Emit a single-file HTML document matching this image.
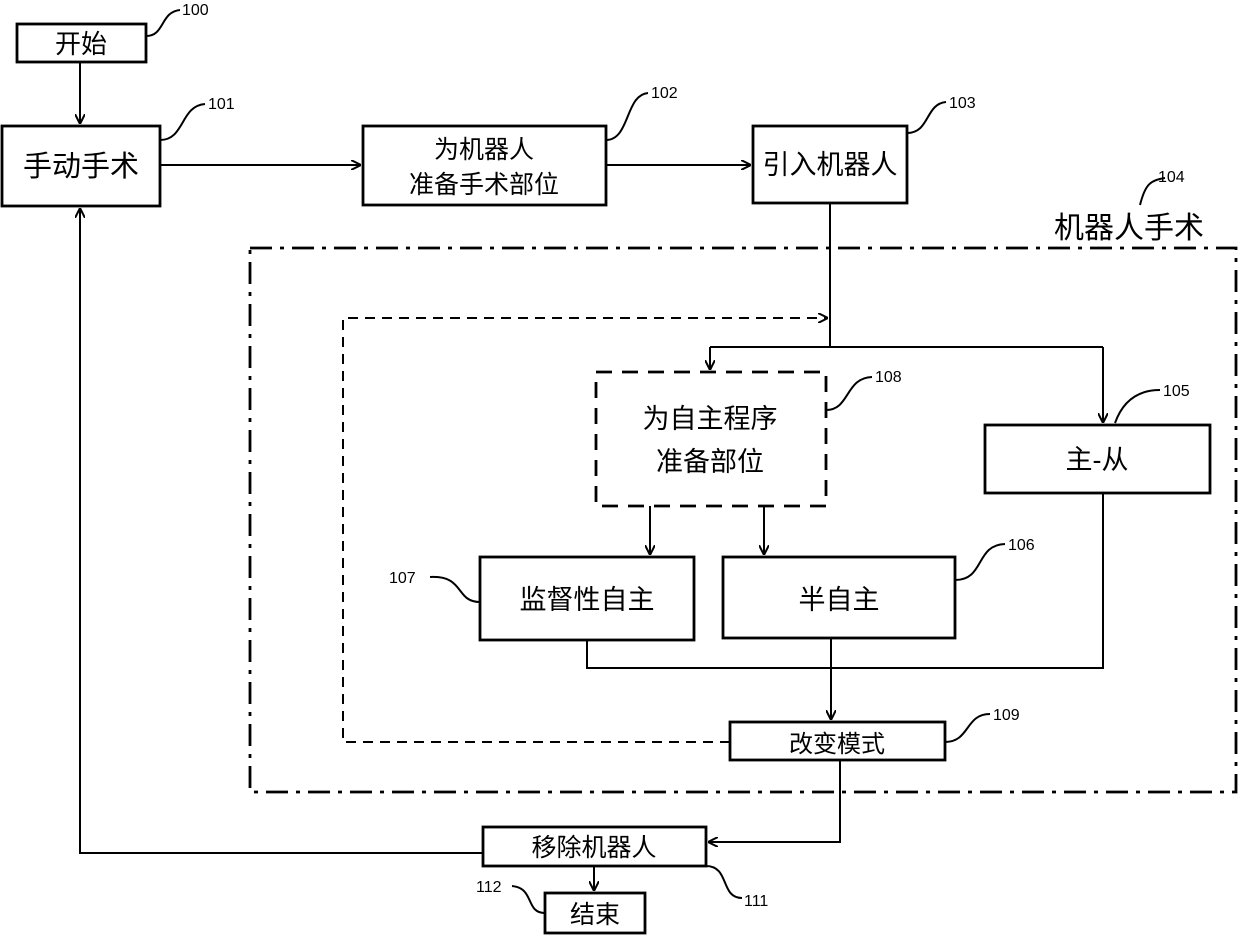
<!DOCTYPE html>
<html><head><meta charset="utf-8"><style>
html,body{margin:0;padding:0;background:#fff}
svg{display:block}
.t{font-family:"Liberation Sans","Noto Sans CJK SC",sans-serif;fill:#000}
.n{font-family:"Liberation Sans",sans-serif;font-size:16px;fill:#000}
</style></head><body>
<svg width="1240" height="938" viewBox="0 0 1240 938" xmlns="http://www.w3.org/2000/svg">
<defs>
<marker id="a" viewBox="0 0 10 10" refX="10" refY="5" markerWidth="10" markerHeight="10" orient="auto-start-reverse" markerUnits="userSpaceOnUse">
<path d="M0,0 L10,5 L0,10" fill="none" stroke="#000" stroke-width="2"/>
</marker>
</defs>
<g fill="none" stroke="#000" stroke-width="2.8">
<rect x="17" y="24" width="129" height="38"/>
<rect x="2" y="126" width="158" height="80"/>
<rect x="363" y="126" width="243" height="79"/>
<rect x="753" y="126" width="154" height="77"/>
<rect x="985" y="425" width="225" height="68"/>
<rect x="480" y="557" width="214" height="83"/>
<rect x="723" y="557" width="232" height="81"/>
<rect x="730" y="722" width="215" height="38"/>
<rect x="483" y="827" width="223" height="39"/>
<rect x="545" y="893" width="100" height="40"/>
<rect x="596" y="372" width="230" height="134" stroke-dasharray="16,10"/>
<rect x="250" y="248" width="986" height="544" stroke-dasharray="22,8,4,8"/>
</g>
<g fill="none" stroke="#000" stroke-width="2">
<line x1="80" y1="62" x2="80" y2="124" marker-end="url(#a)"/>
<line x1="160" y1="165" x2="361" y2="165" marker-end="url(#a)"/>
<line x1="606" y1="165" x2="751" y2="165" marker-end="url(#a)"/>
<polyline points="830,203 830,347"/>
<polyline points="710,347 1103,347"/>
<line x1="710" y1="347" x2="710" y2="370" marker-end="url(#a)"/>
<line x1="1103" y1="347" x2="1103" y2="423" marker-end="url(#a)"/>
<polyline points="730,742 343,742 343,318 828,318" stroke-dasharray="10,7" marker-end="url(#a)"/>
<line x1="650" y1="506" x2="650" y2="555" marker-end="url(#a)"/>
<line x1="764" y1="506" x2="764" y2="555" marker-end="url(#a)"/>
<polyline points="587,640 587,668 1103,668 1103,493"/>
<line x1="831" y1="638" x2="831" y2="720" marker-end="url(#a)"/>
<polyline points="840,760 840,842 708,842" marker-end="url(#a)"/>
<polyline points="483,853 80,853 80,208" marker-end="url(#a)"/>
<line x1="594" y1="866" x2="594" y2="891" marker-end="url(#a)"/>
<path d="M146,36 C165,36 160,12 180,10"/>
<path d="M160,140 C185,140 180,106 205,104"/>
<path d="M606,140 C630,140 625,95 648,93"/>
<path d="M907,133 C930,133 925,104 946,102"/>
<path d="M1140,205 C1145,185 1150,180 1165,178"/>
<path d="M826,410 C850,410 845,378 872,377"/>
<path d="M1115,423 C1125,395 1145,390 1160,390"/>
<path d="M955,580 C985,580 975,545 1005,544"/>
<path d="M480,602 C455,602 465,575 430,577"/>
<path d="M945,742 C970,742 965,714 990,714"/>
<path d="M706,866 C730,866 720,898 742,898"/>
<path d="M545,913 C525,913 535,888 512,886"/>
</g>
<g class="t" font-size="27" text-anchor="middle">
<text x="81" y="53" font-size="26">开始</text>
<text x="81" y="176" font-size="29">手动手术</text>
<text x="484" y="158" font-size="25">为机器人</text>
<text x="484" y="193" font-size="25">准备手术部位</text>
<text x="830" y="174">引入机器人</text>
<text x="1129" y="238" font-size="30">机器人手术</text>
<text x="710" y="428">为自主程序</text>
<text x="710" y="471">准备部位</text>
<text x="1097" y="469">主-从</text>
<text x="587" y="609">监督性自主</text>
<text x="839" y="609">半自主</text>
<text x="837" y="752" font-size="24">改变模式</text>
<text x="594" y="856" font-size="25">移除机器人</text>
<text x="595" y="923" font-size="25">结束</text>
</g>
<g class="n">
<text x="182" y="15">100</text>
<text x="208" y="109">101</text>
<text x="651" y="98">102</text>
<text x="949" y="108">103</text>
<text x="1158" y="182">104</text>
<text x="875" y="382">108</text>
<text x="1163" y="396">105</text>
<text x="1008" y="550">106</text>
<text x="389" y="583">107</text>
<text x="993" y="720">109</text>
<text x="744" y="906">111</text>
<text x="476" y="892">112</text>
</g>
</svg>
</body></html>
